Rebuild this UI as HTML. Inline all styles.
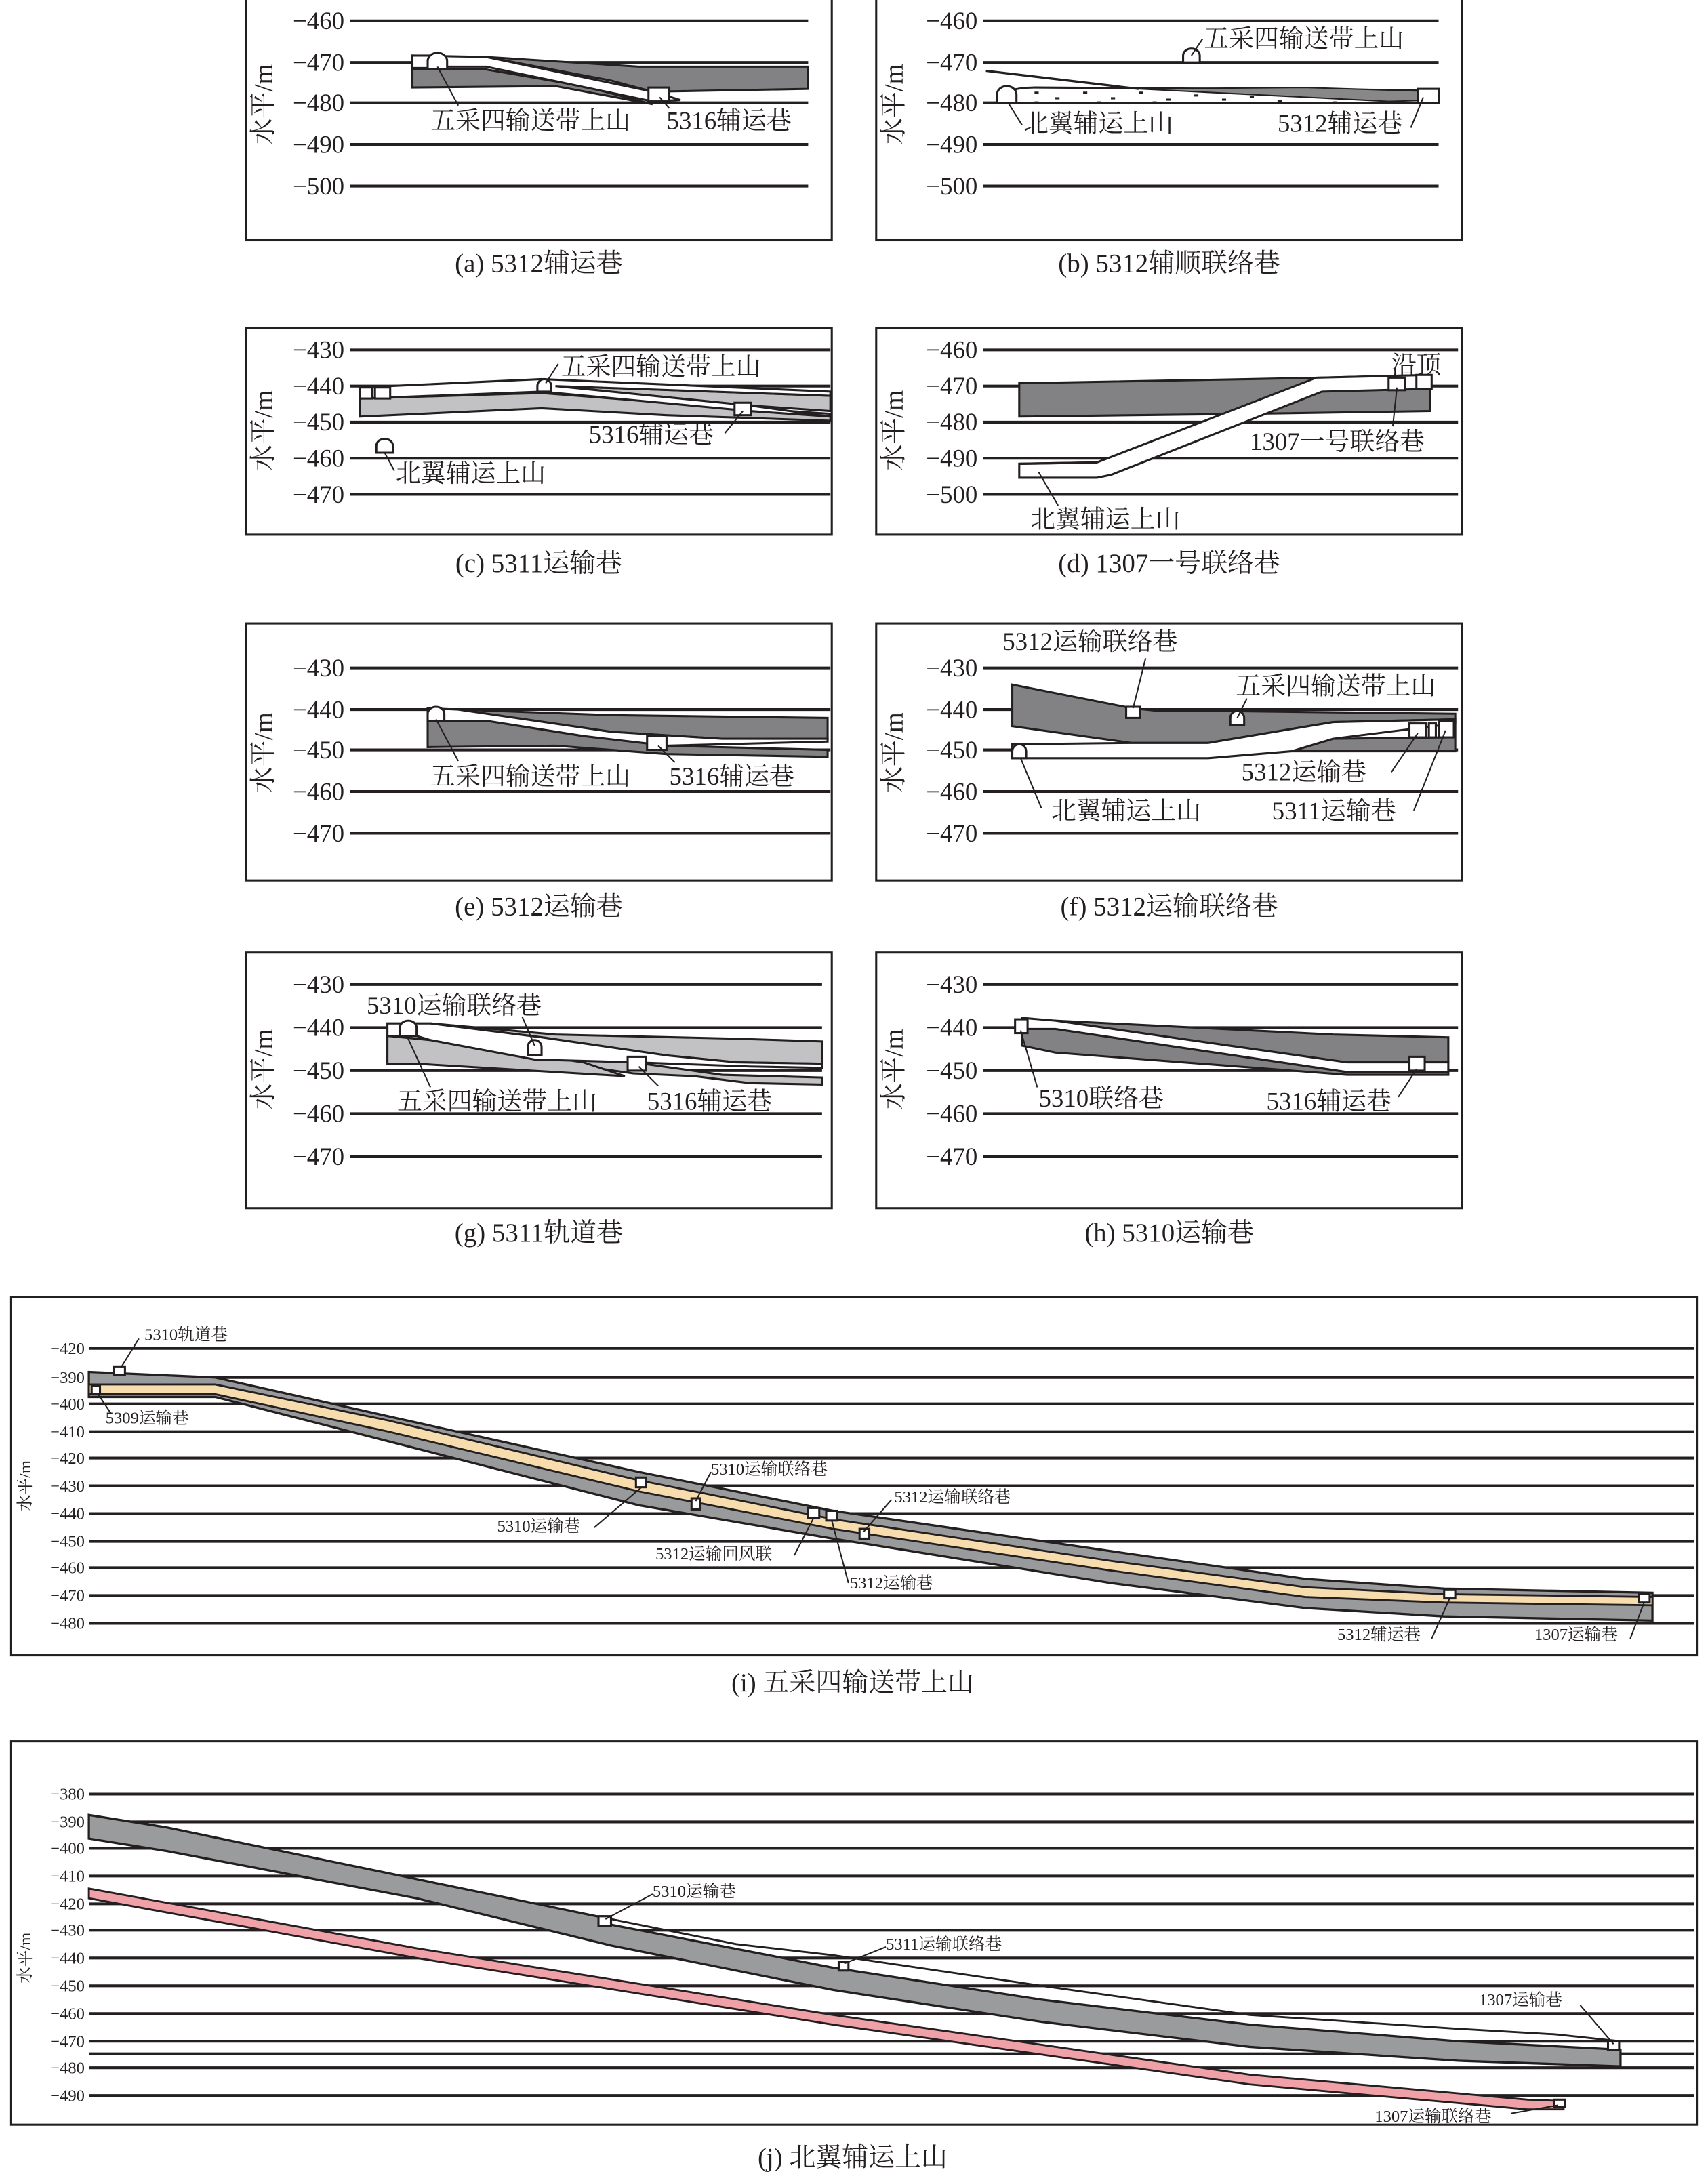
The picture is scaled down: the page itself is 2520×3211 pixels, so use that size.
<!DOCTYPE html>
<html><head><meta charset="utf-8"><style>
html,body{margin:0;padding:0;background:#fff}
svg{display:block}
text{font-family:"Liberation Serif","Noto Serif CJK SC","Noto Sans CJK SC",serif;fill:#231f20}
.t{font-size:18px}
.c{font-size:19px}
.s{font-size:12px}
.g{stroke:#231f20;stroke-width:2;fill:none}
.gs{stroke:#231f20;stroke-width:1.6;fill:none}
.dk{fill:#828284;stroke:#231f20;stroke-width:1.5}
.lg{fill:#c2c2c4;stroke:#231f20;stroke-width:1.5}
.w{fill:#fff;stroke:#231f20;stroke-width:1.5}
.l{stroke:#231f20;stroke-width:1;fill:none}
</style></head><body>
<svg width="2520" height="3211" viewBox="0 0 1230 1567" preserveAspectRatio="none" xmlns="http://www.w3.org/2000/svg">
<rect width="1230" height="1567" fill="#fff"/>

<!-- ===== (a) ===== -->
<rect x="177" y="-2" width="422" height="175" fill="none" stroke="#231f20" stroke-width="1.5"/>
<g class="g"><line x1="252" y1="15" x2="582" y2="15"/><line x1="252" y1="45" x2="582" y2="45"/><line x1="252" y1="74" x2="582" y2="74"/><line x1="252" y1="104" x2="582" y2="104"/><line x1="252" y1="134" x2="582" y2="134"/></g>
<g class="t" text-anchor="end"><text x="248" y="21">−460</text><text x="248" y="51">−470</text><text x="248" y="80">−480</text><text x="248" y="110">−490</text><text x="248" y="140">−500</text></g>
<text class="c" transform="translate(196,75) rotate(-90)" text-anchor="middle">水平/m</text>
<polygon class="dk" points="297,50 350,50 420,62 470,75 400,62 297,63"/>
<polygon class="dk" points="350,41 460,48 582,48 582,64 470,66 440,58"/>
<polygon class="w" points="297,40 350,41 470,66 490,72 470,73 350,48 297,48"/>
<rect class="w" x="297" y="40" width="12" height="9"/>
<path class="w" d="M308,50 L308,44 A7,6 0 0 1 322,44 L322,50 Z"/>
<rect class="w" x="467" y="63" width="15" height="10"/>
<line class="l" x1="315" y1="48" x2="330" y2="76"/><line class="l" x1="475" y1="70" x2="482" y2="78"/>
<text class="t" x="310" y="93">五采四输送带上山</text><text class="t" x="480" y="93">5316辅运巷</text>
<text class="c" x="388" y="196" text-anchor="middle">(a) 5312辅运巷</text>

<!-- ===== (b) ===== -->
<rect x="631" y="-2" width="422" height="175" fill="none" stroke="#231f20" stroke-width="1.5"/>
<g class="g"><line x1="708" y1="15" x2="1036" y2="15"/><line x1="708" y1="45" x2="1036" y2="45"/><line x1="708" y1="74" x2="1036" y2="74"/><line x1="708" y1="104" x2="1036" y2="104"/><line x1="708" y1="134" x2="1036" y2="134"/></g>
<g class="t" text-anchor="end"><text x="704" y="21">−460</text><text x="704" y="51">−470</text><text x="704" y="80">−480</text><text x="704" y="110">−490</text><text x="704" y="140">−500</text></g>
<text class="c" transform="translate(650,75) rotate(-90)" text-anchor="middle">水平/m</text>
<path d="M720,74 L720,68 Q730,63 745,63 L1036,65 L1036,74 Z" fill="#fff" stroke="#231f20" stroke-width="1.5"/>
<g fill="#231f20"><rect x="745" y="66" width="3" height="1.5"/><rect x="780" y="66" width="3" height="1.5"/><rect x="820" y="66" width="3" height="1.5"/><rect x="860" y="68" width="3" height="1.5"/><rect x="900" y="69" width="3" height="1.5"/><rect x="940" y="69" width="3" height="1.5"/><rect x="990" y="70" width="3" height="1.5"/><rect x="760" y="70" width="3" height="1.5"/><rect x="800" y="70" width="3" height="1.5"/><rect x="840" y="71" width="3" height="1.5"/><rect x="880" y="71" width="3" height="1.5"/><rect x="920" y="72" width="3" height="1.5"/><rect x="745" y="73" width="3" height="1.5"/><rect x="790" y="73" width="3" height="1.5"/><rect x="830" y="73" width="3" height="1.5"/><rect x="960" y="73" width="3" height="1.5"/></g>
<polygon points="820,64 940,63 1036,66 1036,72 1000,73" fill="#888" stroke="#231f20" stroke-width="1"/>
<line class="gs" x1="710" y1="51" x2="820" y2="64"/>
<rect class="w" x="1021" y="64" width="15" height="10"/>
<path class="w" d="M718,74 L718,68 A7,6 0 0 1 732,68 L732,74 Z"/>
<path class="w" d="M852,45 L852,40 A6,5 0 0 1 864,40 L864,45 Z"/>
<line class="l" x1="858" y1="40" x2="866" y2="28"/><line class="l" x1="726" y1="74" x2="736" y2="90"/><line class="l" x1="1025" y1="70" x2="1016" y2="92"/>
<text class="t" x="867" y="34">五采四输送带上山</text><text class="t" x="737" y="95">北翼辅运上山</text><text class="t" x="920" y="95">5312辅运巷</text>
<text class="c" x="842" y="196" text-anchor="middle">(b) 5312辅顺联络巷</text>

<!-- ===== (c) ===== -->
<rect x="177" y="236" width="422" height="149" fill="none" stroke="#231f20" stroke-width="1.5"/>
<g class="g"><line x1="252" y1="252" x2="598" y2="252"/><line x1="252" y1="278" x2="598" y2="278"/><line x1="252" y1="304" x2="598" y2="304"/><line x1="252" y1="330" x2="598" y2="330"/><line x1="252" y1="356" x2="598" y2="356"/></g>
<g class="t" text-anchor="end"><text x="248" y="258">−430</text><text x="248" y="284">−440</text><text x="248" y="310">−450</text><text x="248" y="336">−460</text><text x="248" y="362">−470</text></g>
<text class="c" transform="translate(196,310) rotate(-90)" text-anchor="middle">水平/m</text>
<polygon class="lg" points="259,287 390,283 480,290 598,298 598,303 480,299 390,294 259,300"/>
<polygon class="lg" points="400,278 598,285 598,296 540,292"/>
<polygon class="w" points="259,279 390,273 598,282 598,285 400,278 540,292 598,300 540,296 390,282 259,287"/>
<rect class="w" x="259" y="279" width="9" height="8"/><rect class="w" x="270" y="279" width="11" height="8"/>
<path class="w" d="M387,282 L387,278 A5,5 0 0 1 397,278 L397,282 Z"/>
<rect class="w" x="529" y="290" width="12" height="9"/>
<path class="w" d="M271,326 L271,321 A6,5 0 0 1 283,321 L283,326 Z"/>
<line class="l" x1="393" y1="276" x2="402" y2="262"/><line class="l" x1="535" y1="296" x2="522" y2="312"/><line class="l" x1="277" y1="326" x2="284" y2="339"/>
<text class="t" x="404" y="270">五采四输送带上山</text><text class="t" x="424" y="319">5316辅运巷</text><text class="t" x="285" y="347">北翼辅运上山</text>
<text class="c" x="388" y="412" text-anchor="middle">(c) 5311运输巷</text>

<!-- ===== (d) ===== -->
<rect x="631" y="236" width="422" height="149" fill="none" stroke="#231f20" stroke-width="1.5"/>
<g class="g"><line x1="708" y1="252" x2="1050" y2="252"/><line x1="708" y1="278" x2="1050" y2="278"/><line x1="708" y1="304" x2="1050" y2="304"/><line x1="708" y1="330" x2="1050" y2="330"/><line x1="708" y1="356" x2="1050" y2="356"/></g>
<g class="t" text-anchor="end"><text x="704" y="258">−460</text><text x="704" y="284">−470</text><text x="704" y="310">−480</text><text x="704" y="336">−490</text><text x="704" y="362">−500</text></g>
<text class="c" transform="translate(650,310) rotate(-90)" text-anchor="middle">水平/m</text>
<polygon class="dk" points="734,276 900,273 950,272 1030,270 1030,296 900,298 734,300"/>
<polygon class="w" points="734,334 790,333 948,272 1030,270 1030,280 952,282 800,342 790,344 734,344"/>
<line class="gs" x1="734" y1="334" x2="790" y2="333"/>
<rect class="w" x="1020" y="270" width="11" height="10"/><rect class="w" x="1000" y="272" width="12" height="9"/>
<line class="l" x1="1006" y1="279" x2="1003" y2="307"/><line class="l" x1="748" y1="340" x2="762" y2="364"/>
<text class="t" x="1002" y="269">沿顶</text><text class="t" x="900" y="324">1307一号联络巷</text><text class="t" x="742" y="380">北翼辅运上山</text>
<text class="c" x="842" y="412" text-anchor="middle">(d) 1307一号联络巷</text>

<!-- ===== (e) ===== -->
<rect x="177" y="449" width="422" height="185" fill="none" stroke="#231f20" stroke-width="1.5"/>
<g class="g"><line x1="252" y1="481" x2="598" y2="481"/><line x1="252" y1="511" x2="598" y2="511"/><line x1="252" y1="540" x2="598" y2="540"/><line x1="252" y1="570" x2="598" y2="570"/><line x1="252" y1="600" x2="598" y2="600"/></g>
<g class="t" text-anchor="end"><text x="248" y="487">−430</text><text x="248" y="517">−440</text><text x="248" y="546">−450</text><text x="248" y="576">−460</text><text x="248" y="606">−470</text></g>
<text class="c" transform="translate(196,542) rotate(-90)" text-anchor="middle">水平/m</text>
<polygon class="dk" points="308,519 350,519 420,530 480,537 596,540 596,545 480,543 400,537 308,538"/>
<polygon class="dk" points="330,511 440,515 596,517 596,532 520,532 440,527"/>
<polygon class="w" points="308,510 330,511 440,527 520,532 596,532 596,534 480,537 420,530 350,519 308,519"/>
<path class="w" d="M308,519 L308,514 A6,5 0 0 1 320,514 L320,519 Z"/>
<rect class="w" x="466" y="530" width="14" height="10"/>
<line class="l" x1="314" y1="518" x2="330" y2="548"/><line class="l" x1="474" y1="537" x2="486" y2="549"/>
<text class="t" x="310" y="565">五采四输送带上山</text><text class="t" x="482" y="565">5316辅运巷</text>
<text class="c" x="388" y="659" text-anchor="middle">(e) 5312运输巷</text>

<!-- ===== (f) ===== -->
<rect x="631" y="449" width="422" height="185" fill="none" stroke="#231f20" stroke-width="1.5"/>
<g class="g"><line x1="708" y1="481" x2="1050" y2="481"/><line x1="708" y1="511" x2="1050" y2="511"/><line x1="708" y1="540" x2="1050" y2="540"/><line x1="708" y1="570" x2="1050" y2="570"/><line x1="708" y1="600" x2="1050" y2="600"/></g>
<g class="t" text-anchor="end"><text x="704" y="487">−430</text><text x="704" y="517">−440</text><text x="704" y="546">−450</text><text x="704" y="576">−460</text><text x="704" y="606">−470</text></g>
<text class="c" transform="translate(650,542) rotate(-90)" text-anchor="middle">水平/m</text>
<polygon class="dk" points="729,493 815,510 835,512 880,512 960,513 1048,514 1048,541 930,541 960,532 1040,531 1040,521 1048,521 1048,518 960,520 870,535 815,535 729,523"/>
<polygon class="w" points="729,536 815,535 870,535 960,520 1048,518 1048,521 960,532 930,541 870,546 729,546"/>
<path class="w" d="M729,546 L729,541 A5,5 0 0 1 739,541 L739,546 Z"/>
<rect class="w" x="811" y="509" width="10" height="8"/>
<path class="w" d="M886,522 L886,517 A5,5 0 0 1 896,517 L896,522 Z"/>
<rect class="w" x="1015" y="521" width="12" height="10"/><rect class="w" x="1029" y="521" width="5" height="10"/><rect class="w" x="1036" y="519" width="11" height="12"/>
<line class="l" x1="816" y1="510" x2="825" y2="474"/><line class="l" x1="891" y1="517" x2="898" y2="503"/><line class="l" x1="735" y1="546" x2="750" y2="582"/><line class="l" x1="1021" y1="528" x2="1002" y2="556"/><line class="l" x1="1041" y1="526" x2="1018" y2="584"/>
<text class="t" x="722" y="468">5312运输联络巷</text><text class="t" x="890" y="500">五采四输送带上山</text><text class="t" x="894" y="562">5312运输巷</text><text class="t" x="757" y="590">北翼辅运上山</text><text class="t" x="916" y="590">5311运输巷</text>
<text class="c" x="842" y="659" text-anchor="middle">(f) 5312运输联络巷</text>

<!-- ===== (g) ===== -->
<rect x="177" y="686" width="422" height="184" fill="none" stroke="#231f20" stroke-width="1.5"/>
<g class="g"><line x1="252" y1="709" x2="592" y2="709"/><line x1="252" y1="740" x2="592" y2="740"/><line x1="252" y1="771" x2="592" y2="771"/><line x1="252" y1="802" x2="592" y2="802"/><line x1="252" y1="833" x2="592" y2="833"/></g>
<g class="t" text-anchor="end"><text x="248" y="715">−430</text><text x="248" y="746">−440</text><text x="248" y="777">−450</text><text x="248" y="808">−460</text><text x="248" y="839">−470</text></g>
<text class="c" transform="translate(196,770) rotate(-90)" text-anchor="middle">水平/m</text>
<polygon class="lg" points="279,746 300,746 310,749 385,763 456,773 500,775 540,780 592,781 592,776 520,774 456,765 410,752 279,765"/>
<polygon class="lg" points="279,746 279,766 300,766 450,775 420,765 310,749"/>
<polygon class="lg" points="310,737 400,745 530,748 592,750 592,766 530,765 480,760 390,747"/>
<polygon class="w" points="279,737 310,737 390,747 480,760 530,765 592,766 592,769 540,768 456,765 385,763 310,749 300,746 279,746"/>
<path class="w" d="M288,746 L288,740 A6,5 0 0 1 300,740 L300,746 Z"/>
<path class="w" d="M380,760 L380,754 A5,5 0 0 1 390,754 L390,760 Z"/>
<rect class="w" x="452" y="761" width="13" height="10"/>
<line class="l" x1="293" y1="746" x2="310" y2="783"/><line class="l" x1="385" y1="753" x2="376" y2="732"/><line class="l" x1="460" y1="768" x2="474" y2="782"/>
<text class="t" x="264" y="730">5310运输联络巷</text><text class="t" x="286" y="799">五采四输送带上山</text><text class="t" x="466" y="799">5316辅运巷</text>
<text class="c" x="388" y="894" text-anchor="middle">(g) 5311轨道巷</text>

<!-- ===== (h) ===== -->
<rect x="631" y="686" width="422" height="184" fill="none" stroke="#231f20" stroke-width="1.5"/>
<g class="g"><line x1="708" y1="709" x2="1050" y2="709"/><line x1="708" y1="740" x2="1050" y2="740"/><line x1="708" y1="771" x2="1050" y2="771"/><line x1="708" y1="802" x2="1050" y2="802"/><line x1="708" y1="833" x2="1050" y2="833"/></g>
<g class="t" text-anchor="end"><text x="704" y="715">−430</text><text x="704" y="746">−440</text><text x="704" y="777">−450</text><text x="704" y="808">−460</text><text x="704" y="839">−470</text></g>
<text class="c" transform="translate(650,770) rotate(-90)" text-anchor="middle">水平/m</text>
<polygon class="dk" points="736,741 760,741 970,772 1043,772 1043,774 970,774 760,758 736,753"/>
<polygon class="dk" points="760,735 960,745 1043,747 1043,765 970,765 850,748"/>
<polygon class="w" points="736,733 760,735 850,748 970,765 1043,765 1043,772 970,772 760,741 736,741"/>
<rect class="w" x="731" y="734" width="9" height="10"/>
<rect class="w" x="1015" y="761" width="11" height="10"/>
<line class="l" x1="735" y1="742" x2="747" y2="783"/><line class="l" x1="1020" y1="770" x2="1007" y2="790"/>
<text class="t" x="748" y="797">5310联络巷</text><text class="t" x="912" y="799">5316辅运巷</text>
<text class="c" x="842" y="894" text-anchor="middle">(h) 5310运输巷</text>

<!-- ===== (i) ===== -->
<rect x="8" y="934" width="1214" height="258" fill="none" stroke="#231f20" stroke-width="1.5"/>
<g class="g" stroke-width="1.6">
<line x1="64" y1="971" x2="1220" y2="971"/><line x1="64" y1="992" x2="1220" y2="992"/><line x1="64" y1="1011" x2="1220" y2="1011"/><line x1="64" y1="1031" x2="1220" y2="1031"/><line x1="64" y1="1050" x2="1220" y2="1050"/><line x1="64" y1="1070" x2="1220" y2="1070"/><line x1="64" y1="1090" x2="1220" y2="1090"/><line x1="64" y1="1110" x2="1220" y2="1110"/><line x1="64" y1="1129" x2="1220" y2="1129"/><line x1="64" y1="1149" x2="1220" y2="1149"/><line x1="64" y1="1169" x2="1220" y2="1169"/>
</g>
<g class="s" text-anchor="end"><text x="61" y="975">−420</text><text x="61" y="996">−390</text><text x="61" y="1015">−400</text><text x="61" y="1035">−410</text><text x="61" y="1054">−420</text><text x="61" y="1074">−430</text><text x="61" y="1094">−440</text><text x="61" y="1114">−450</text><text x="61" y="1133">−460</text><text x="61" y="1153">−470</text><text x="61" y="1173">−480</text></g>
<text class="s" transform="translate(22,1070) rotate(-90)" text-anchor="middle">水平/m</text>
<polygon points="64,988 155,992 280,1020 460,1060 600,1088 800,1117 940,1137 1040,1144 1190,1147 1190,1167 1040,1164 940,1158 800,1140 600,1108 460,1084 280,1038 155,1006 64,1006" fill="#999a9c" stroke="#231f20" stroke-width="1.6"/>
<polygon points="64,997 155,997 280,1023 460,1066 600,1094 800,1124 940,1143 1040,1148 1190,1150 1190,1156 1040,1154 940,1150 800,1131 600,1101 460,1074 280,1031 155,1004 64,1004" fill="#f7dcae" stroke="#231f20" stroke-width="1.4"/>
<rect class="w" x="82" y="984" width="8" height="6" stroke-width="1"/>
<rect class="w" x="66" y="998" width="6" height="6" stroke-width="1"/>
<rect class="w" x="458" y="1064" width="7" height="7" stroke-width="1"/>
<rect class="w" x="498" y="1079" width="6" height="8" stroke-width="1"/>
<rect class="w" x="582" y="1086" width="8" height="7" stroke-width="1"/><rect class="w" x="595" y="1088" width="8" height="7" stroke-width="1"/>
<rect class="w" x="619" y="1101" width="7" height="7" stroke-width="1"/>
<rect class="w" x="1040" y="1145" width="8" height="6" stroke-width="1"/><rect class="w" x="1180" y="1148" width="8" height="6" stroke-width="1"/>
<g class="l" stroke-width="0.9"><line x1="87" y1="985" x2="100" y2="964"/><line x1="70" y1="1003" x2="80" y2="1018"/><line x1="462" y1="1071" x2="428" y2="1100"/><line x1="501" y1="1081" x2="512" y2="1060"/><line x1="586" y1="1093" x2="572" y2="1120"/><line x1="599" y1="1095" x2="611" y2="1140"/><line x1="622" y1="1103" x2="642" y2="1080"/><line x1="1044" y1="1151" x2="1031" y2="1180"/><line x1="1184" y1="1154" x2="1174" y2="1180"/></g>
<g class="s"><text x="104" y="965">5310轨道巷</text><text x="76" y="1025">5309运输巷</text><text x="358" y="1103">5310运输巷</text><text x="512" y="1062">5310运输联络巷</text><text x="472" y="1123">5312运输回风联</text><text x="644" y="1082">5312运输联络巷</text><text x="612" y="1144">5312运输巷</text><text x="963" y="1181">5312辅运巷</text><text x="1105" y="1181">1307运输巷</text></g>
<text class="c" x="614" y="1218" text-anchor="middle">(i) 五采四输送带上山</text>

<!-- ===== (j) ===== -->
<rect x="8" y="1254" width="1214" height="276" fill="none" stroke="#231f20" stroke-width="1.5"/>
<g class="g" stroke-width="1.6">
<line x1="64" y1="1292" x2="1220" y2="1292"/><line x1="64" y1="1312" x2="1220" y2="1312"/><line x1="64" y1="1331" x2="1220" y2="1331"/><line x1="64" y1="1351" x2="1220" y2="1351"/><line x1="64" y1="1371" x2="1220" y2="1371"/><line x1="64" y1="1390" x2="1220" y2="1390"/><line x1="64" y1="1410" x2="1220" y2="1410"/><line x1="64" y1="1430" x2="1220" y2="1430"/><line x1="64" y1="1450" x2="1220" y2="1450"/><line x1="64" y1="1470" x2="1220" y2="1470"/><line x1="64" y1="1479" x2="1220" y2="1479"/><line x1="64" y1="1489" x2="1220" y2="1489"/><line x1="64" y1="1509" x2="1220" y2="1509"/>
</g>
<g class="s" text-anchor="end"><text x="61" y="1296">−380</text><text x="61" y="1316">−390</text><text x="61" y="1335">−400</text><text x="61" y="1355">−410</text><text x="61" y="1375">−420</text><text x="61" y="1394">−430</text><text x="61" y="1414">−440</text><text x="61" y="1434">−450</text><text x="61" y="1454">−460</text><text x="61" y="1474">−470</text><text x="61" y="1493">−480</text><text x="61" y="1513">−490</text></g>
<text class="s" transform="translate(22,1410) rotate(-90)" text-anchor="middle">水平/m</text>
<polygon points="64,1360 300,1403 600,1451 900,1494 1100,1512 1126,1513 1126,1519 1100,1519 900,1501 600,1458 300,1410 64,1367" fill="#f0a1a8" stroke="#231f20" stroke-width="1.4"/>
<polygon points="64,1307 120,1316 430,1380 440,1380 440,1386 600,1417 750,1440 900,1458 1050,1470 1167,1476 1167,1488 1050,1484 900,1474 750,1456 600,1433 440,1401 300,1367 120,1333 64,1324" fill="#9a9b9d" stroke="#231f20" stroke-width="1.6"/>
<polyline points="430,1380 530,1400 600,1408 750,1430 900,1451 1050,1461 1120,1465 1167,1470" fill="none" stroke="#231f20" stroke-width="1.4"/>
<rect class="w" x="431" y="1380" width="9" height="7" stroke-width="1"/>
<rect class="w" x="604" y="1413" width="7" height="6" stroke-width="1"/>
<rect class="w" x="1158" y="1470" width="8" height="6" stroke-width="1"/>
<rect class="w" x="1119" y="1512" width="8" height="5" stroke-width="1"/>
<g class="l" stroke-width="0.9"><line x1="436" y1="1382" x2="470" y2="1364"/><line x1="608" y1="1414" x2="638" y2="1402"/><line x1="1162" y1="1472" x2="1138" y2="1444"/><line x1="1122" y1="1516" x2="1088" y2="1522"/></g>
<g class="s"><text x="470" y="1366">5310运输巷</text><text x="638" y="1404">5311运输联络巷</text><text x="1065" y="1444">1307运输巷</text><text x="990" y="1528">1307运输联络巷</text></g>
<text class="c" x="614" y="1560" text-anchor="middle">(j) 北翼辅运上山</text>
</svg>
</body></html>
